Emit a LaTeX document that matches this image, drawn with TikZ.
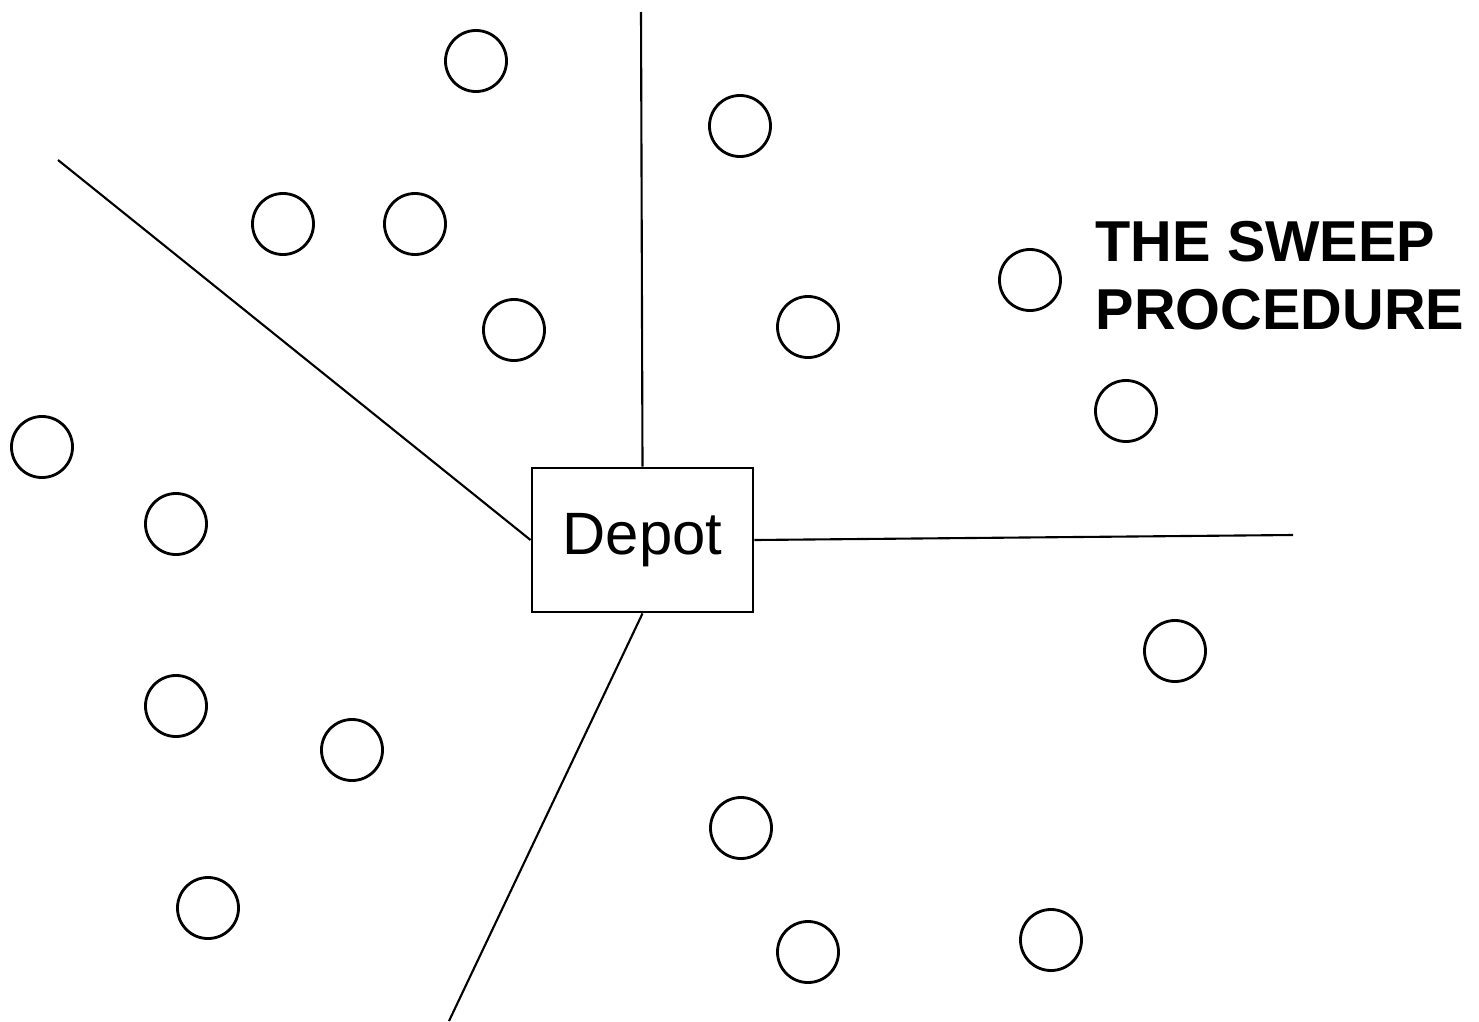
\documentclass[tikz,border=0pt]{standalone}
\usepackage{fontspec}
\setmainfont{Liberation Sans}
\tikzstyle{customer}=[
        draw,
        circle,
        line width=0.8pt,
        minimum size=0.61cm,
        inner sep=0pt
]
\tikzstyle{depot}=[
        draw,
        line width=0.8pt,
        minimum width=2.21cm,
        minimum height=1.44cm,
        inner sep=0pt,
        font=\fontsize{17}{20}\selectfont
]
\tikzstyle{ray}=[
        line width=0.6pt
]

\begin{document}
\begin{tikzpicture}[x=0.01cm,y=-0.01cm]
                    \useasboundingbox (0,0) rectangle (1479,1021);

                    \node[depot] (depot) at (642.5,540) {Depot};

                    \node[anchor=west,align=left,inner sep=0pt,font=\fontsize{16.4}{19.3}\selectfont\bfseries]
                        (title) at (1095,276) {THE SWEEP\\PROCEDURE};

                    % customers
                    \foreach \x/\y [count=\i] in {476/61, 740/126, 283/224, 415/224,
                        1030/280, 514/330, 808/327, 1126/411, 42/447, 176/524,
                        1175/651, 176/706, 352/750, 741/828, 808/952, 1051/940, 208/908} {
                        \node[customer] (c\i) at (\x,\y) {};
                    }

                    % sweep rays
                    \coordinate (north end) at (641,12);
                    \coordinate (west end) at (58,160);
                    \coordinate (east end) at (1293,535);
                    \coordinate (south end) at (449,1021);

                    \draw[ray] (depot.north) -- (north end);
                    \draw[ray] (depot.west) -- (west end);
                    \draw[ray] (depot.east) -- (east end);
                    \draw[ray] (depot.south) -- (south end);

                \end{tikzpicture}
\end{document}
